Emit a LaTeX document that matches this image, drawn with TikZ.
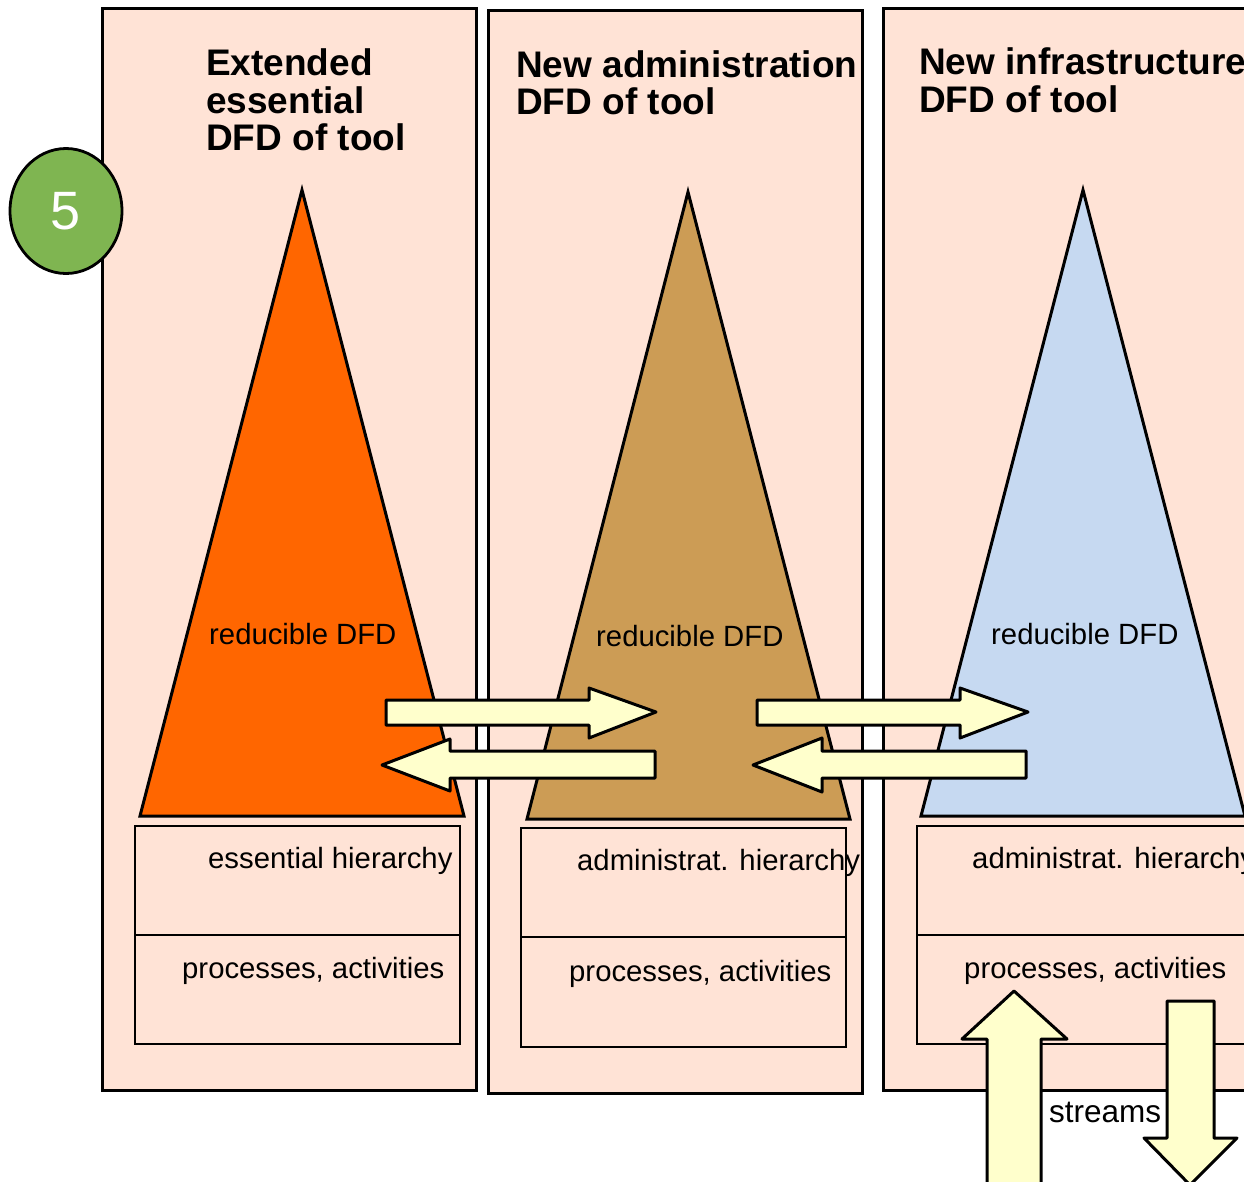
\documentclass[tikz,border=0pt]{standalone}
\usepackage{fontspec}
\setmainfont{Liberation Sans}
\usetikzlibrary{shapes.geometric}
\definecolor{peach}{HTML}{FFE3D6}
\definecolor{essentialorange}{HTML}{FF6600}
\definecolor{admintan}{HTML}{CC9C55}
\definecolor{infrablue}{HTML}{C6D9F1}
\definecolor{paleyellow}{HTML}{FFFFCC}
\definecolor{stepgreen}{HTML}{7FB551}
\begin{document}
\begin{tikzpicture}[x=1pt,y=-1pt,
  panel/.style={draw=black,line width=3pt,fill=peach},
  cone/.style={draw=black,line width=3pt,line join=miter},
  levelbox/.style={draw=black,line width=2.4pt,fill=peach},
  blockarrow/.style={draw=black,line width=3pt,fill=paleyellow,line join=round},
  txt/.style={font=\fontsize{29.3}{34}\selectfont,anchor=base west,inner sep=0pt},
  heading/.style={font=\fontsize{37}{38}\selectfont\bfseries,anchor=base west,inner sep=0pt}]

\useasboundingbox (0,0) rectangle (1244,1181);
\clip (0,0) rectangle (1244,1181);
\fill[white] (0,0) rectangle (1244,1181);

% three columns
\draw[panel] (102,8) rectangle (476,1090);
\draw[panel] (488,10) rectangle (862,1093);
\draw[panel] (883,8) rectangle (1270,1090);

% headings
\node[heading] (h1a) at (206,75) {Extended};
\node[heading] (h1b) at (206,113) {essential};
\node[heading] (h1c) at (206,150) {DFD of tool};
\node[heading] (h2a) at (516,77) {New administration};
\node[heading] (h2b) at (516,114) {DFD of tool};
\node[heading] (h3a) at (919,74) {New infrastructure};
\node[heading] (h3b) at (919,112) {DFD of tool};

% step marker
\node[ellipse,draw=black,line width=2.8pt,fill=stepgreen,minimum width=112pt,minimum height=125pt,
      inner sep=0pt,text depth=0pt,text=white,font=\fontsize{54}{54}\selectfont] (five) at (66,211) {5};

% reducible DFD cones
\draw[cone,fill=essentialorange] (302,190) -- (464,816) -- (140,816) -- cycle;
\draw[cone,fill=admintan] (688,192) -- (850,819) -- (527,819) -- cycle;
\draw[cone,fill=infrablue] (1083,190) -- (1245,816) -- (921,816) -- cycle;
\node[txt] (r1) at (209,644) {reducible DFD};
\node[txt] (r2) at (596,646) {reducible DFD};
\node[txt] (r3) at (991,644) {reducible DFD};

% hierarchy boxes
\draw[levelbox] (135,826) rectangle (460,935);
\draw[levelbox] (135,935) rectangle (460,1044);
\draw[levelbox] (521,828) rectangle (846,937);
\draw[levelbox] (521,937) rectangle (846,1047);
\draw[levelbox] (917,826) rectangle (1270,935);
\draw[levelbox] (917,935) rectangle (1270,1044);
\node[txt] (e1) at (208,868) {essential hierarchy};
\node[txt] (p1) at (182,978) {processes, activities};
\node[txt] (e2) at (577,870) {administrat. hierarchy};
\node[txt] (p2) at (569,981) {processes, activities};
\node[txt] (e3) at (972,868) {administrat. hierarchy};
\node[txt] (p3) at (964,978) {processes, activities};

% exchange arrows between the columns
\draw[blockarrow] (386,700) -- (589,700) -- (589,688) -- (656,712) -- (589,738) -- (589,725) -- (386,725) -- cycle;
\draw[blockarrow] (382,765) -- (450,739) -- (450,751) -- (655,751) -- (655,778) -- (450,778) -- (450,791) -- cycle;
\draw[blockarrow] (757,700) -- (960,700) -- (960,688) -- (1028,712) -- (960,738) -- (960,725) -- (757,725) -- cycle;
\draw[blockarrow] (753,765) -- (822,738) -- (822,751) -- (1026,751) -- (1026,778) -- (822,778) -- (822,792) -- cycle;

% streams in and out
\draw[blockarrow] (1014,991) -- (1067,1039) -- (1041,1039) -- (1041,1200) -- (987,1200) -- (987,1039) -- (962,1039) -- cycle;
\draw[blockarrow] (1167,1001) -- (1214,1001) -- (1214,1138) -- (1237,1138) -- (1190,1185) -- (1144,1138) -- (1167,1138) -- cycle;
\node[txt,font=\fontsize{31.5}{34}\selectfont] (st) at (1049,1122) {streams};
\end{tikzpicture}
\end{document}
